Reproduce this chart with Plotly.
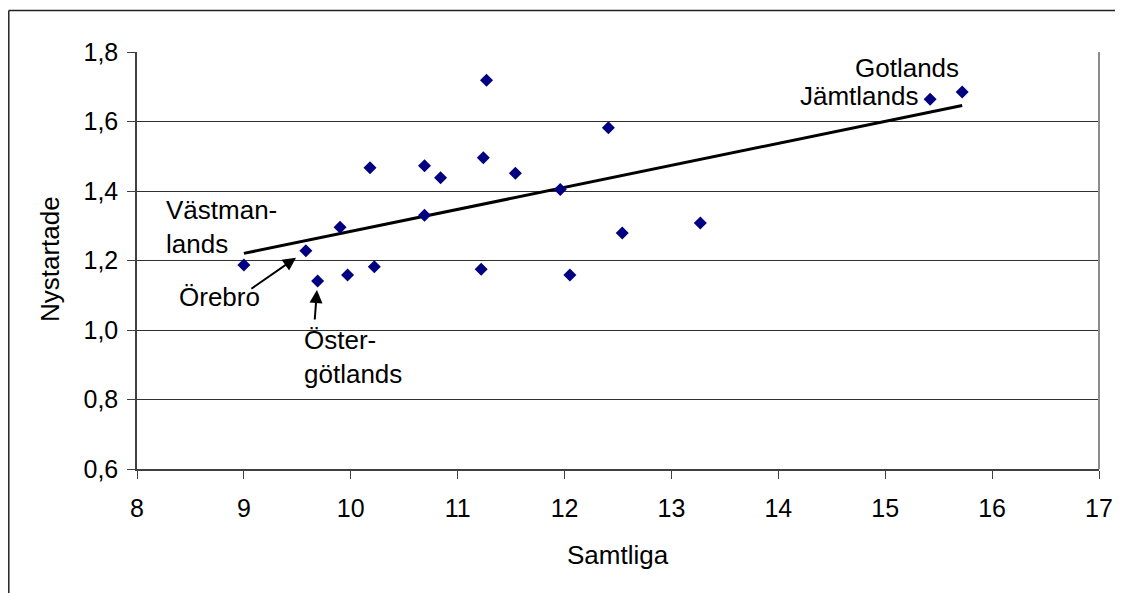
import numpy as np
import plotly.graph_objects as go

# ---- data ----
samtliga = [9.00, 9.58, 9.69, 9.90, 9.97, 10.18, 10.22, 10.69, 10.69, 10.84,
            11.27, 11.24, 11.22, 11.54, 11.96, 12.41, 12.05, 12.54, 13.27,
            15.42, 15.72]
nystartade = [1.187, 1.228, 1.141, 1.296, 1.158, 1.467, 1.182, 1.473, 1.330, 1.438,
              1.719, 1.496, 1.175, 1.451, 1.404, 1.582, 1.158, 1.279, 1.308,
              1.664, 1.685]
# labelled counties -> index of their point
label_names = ["Västman-<br>lands", "Örebro", "Öster-<br>götlands", "Jämtlands", "Gotlands"]
label_index = [0, 1, 2, 19, 20]

x_ticks = list(range(8, 18))
y_ticks = [0.6, 0.8, 1.0, 1.2, 1.4, 1.6, 1.8]

FONT = "Liberation Sans, Arial, sans-serif"
FS = 26
TFS = 25

fig = go.Figure()

# trend line (least squares)
slope, intercept = np.polyfit(samtliga, nystartade, 1)
tx = np.array([min(samtliga), max(samtliga)])
fig.add_trace(go.Scatter(x=tx, y=slope * tx + intercept, mode="lines",
                         line=dict(color="black", width=3), hoverinfo="skip",
                         showlegend=False))

fig.add_trace(go.Scatter(x=samtliga, y=nystartade, mode="markers",
                         marker=dict(symbol="diamond", size=10, color="#000080",
                                     line=dict(width=0)),
                         showlegend=False))

annotations = []
# text label placements (pixel offsets relative to their point)
label_style = {
    "Västman-<br>lands": dict(xanchor="left", yanchor="middle", xshift=-80, yshift=38, align="left"),
    "Örebro": dict(xanchor="left", yanchor="middle", xshift=-129, yshift=-46, align="left"),
    "Öster-<br>götlands": dict(xanchor="left", yanchor="middle", xshift=-16, yshift=-76, align="left"),
    "Jämtlands": dict(xanchor="right", yanchor="middle", xshift=-9, yshift=3, align="right"),
    "Gotlands": dict(xanchor="right", yanchor="middle", xshift=-1, yshift=24, align="right"),
}
for name, idx in zip(label_names, label_index):
    st = label_style[name]
    annotations.append(dict(x=samtliga[idx], y=nystartade[idx], xref="x", yref="y",
                            text=name, showarrow=False,
                            font=dict(family=FONT, size=FS, color="black"),
                            **st))

# arrows to Örebro and Östergötland points
arrow_spec = [(1, -56, 39, 12), (2, -3, 40, 9)]
for idx, ax, ay, so in arrow_spec:
    annotations.append(dict(x=samtliga[idx], y=nystartade[idx], xref="x", yref="y",
                            ax=ax, ay=ay, axref="pixel", ayref="pixel", text="",
                            showarrow=True, arrowhead=2, arrowsize=1.3, arrowwidth=2,
                            arrowcolor="black", standoff=so))

# axis titles
annotations.append(dict(x=0.5, y=-0.206, xref="paper", yref="paper", text="Samtliga",
                        showarrow=False, xanchor="center", yanchor="middle",
                        font=dict(family=FONT, size=FS, color="black")))
annotations.append(dict(x=-0.0904, y=0.5036, xref="paper", yref="paper", text="Nystartade",
                        showarrow=False, xanchor="center", yanchor="middle", textangle=-90,
                        font=dict(family=FONT, size=FS, color="black")))

BL = -128.2 / 962  # left edge of the outer chart frame (paper units)
shapes = [
    # right edge of plot area
    dict(type="line", xref="paper", yref="paper", x0=1, x1=1, y0=0, y1=1,
         line=dict(color="#8c8c8c", width=2)),
    # outer chart border (top and left visible)
    dict(type="line", xref="paper", yref="paper", x0=BL, x1=1.2, y0=1.0993, y1=1.0993,
         line=dict(color="#222222", width=1.5)),
    dict(type="line", xref="paper", yref="paper", x0=BL, x1=BL, y0=1.0993, y1=-0.4,
         line=dict(color="#222222", width=1.5)),
]

fig.update_layout(
    width=1123, height=593,
    margin=dict(l=129, r=32, t=44, b=132, pad=0),
    paper_bgcolor="white", plot_bgcolor="white",
    separators=", ",
    font=dict(family=FONT, size=TFS, color="black"),
    annotations=annotations, shapes=shapes,
    xaxis=dict(range=[8, 17], tickvals=x_ticks, ticks="outside", ticklen=8,
               tickcolor="#404040", showline=True, linecolor="#404040", linewidth=1.5,
               showgrid=False, zeroline=False, tickfont=dict(size=TFS),
               ticklabelstandoff=8),
    yaxis=dict(range=[0.6, 1.8], tickvals=y_ticks, tickformat=".1f", ticks="outside",
               ticklen=8, tickcolor="#404040", showline=True, linecolor="#404040",
               linewidth=1.5, showgrid=True, gridcolor="#303030", gridwidth=1,
               zeroline=False, tickfont=dict(size=TFS), ticklabelstandoff=4),
)

fig.write_html("out.html")
